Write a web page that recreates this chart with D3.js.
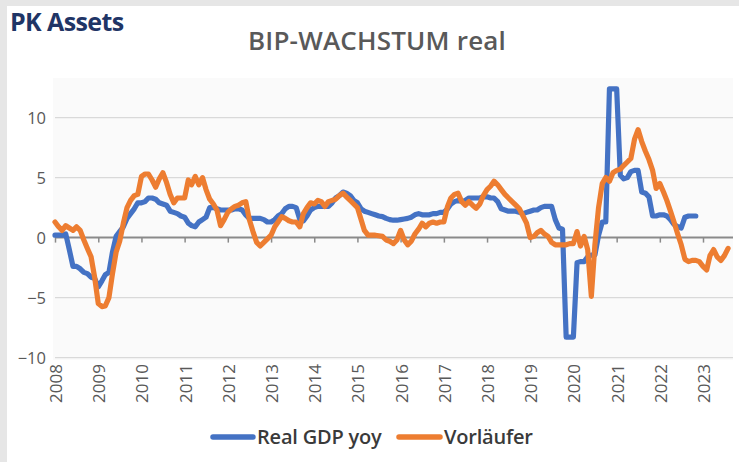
<!DOCTYPE html>
<html>
<head>
<meta charset="utf-8">
<script src="https://cdn.jsdelivr.net/npm/d3@7"></script>
<style>
  html, body { margin: 0; padding: 0; background: #e9e9e9; }
  svg { display: block; }
  text { font-family: "Open Sans", "Noto Sans", sans-serif; }
</style>
</head>
<body>
<svg id="chart" width="739" height="462"></svg>
<script>
// ---- data (monthly, starting Jan 2008) ----
const startMonth = "2008-01";
const years = ["2008","2009","2010","2011","2012","2013","2014","2015","2016","2017","2018","2019","2020","2021","2022","2023"];
const yTicks = [-10, -5, 0, 5, 10];
const seriesNames = ["Real GDP yoy", "Vorläufer"];

const realGdpYoy = [
  0.2, 0.2, 0.2, 0.3, -1.0, -2.4, -2.4, -2.6, -2.9, -3.0, -3.3, -3.4,
  -4.1, -3.6, -3.1, -2.9, -1.2, 0.1, 0.5, 0.9, 1.6, 2.0, 2.4, 2.9,
  2.9, 3.0, 3.3, 3.3, 3.2, 2.9, 2.8, 2.7, 2.2, 2.1, 2.0, 1.8,
  1.7, 1.2, 1.0, 0.9, 1.3, 1.5, 1.7, 2.5, 2.5, 2.4, 2.3, 2.3,
  2.3, 2.3, 2.4, 2.4, 2.3, 1.9, 1.6, 1.6, 1.6, 1.6, 1.5, 1.3,
  1.3, 1.5, 1.8, 2.0, 2.4, 2.6, 2.6, 2.5, 1.5, 1.4, 1.8, 2.3,
  2.5, 2.6, 2.6, 2.6, 2.6, 2.9, 3.3, 3.5, 3.8, 3.7, 3.5, 3.1,
  2.9, 2.4, 2.2, 2.1, 2.0, 1.9, 1.8, 1.75, 1.6, 1.5, 1.45, 1.45,
  1.5, 1.55, 1.6, 1.7, 1.9, 2.0, 1.9, 1.9, 1.9, 2.0, 2.0, 2.1,
  2.1, 2.4, 2.8, 3.0, 3.1, 3.0, 3.1, 3.3, 3.3, 3.3, 3.3, 3.4,
  3.4, 3.3, 3.3, 3.0, 2.4, 2.3, 2.2, 2.2, 2.2, 2.1, 2.0, 2.1,
  2.2, 2.3, 2.3, 2.5, 2.6, 2.6, 2.6, 1.5, 0.8, 0.7, -8.3, -8.3,
  -8.3, -2.1, -2.0, -2.0, -1.6, -1.45, -1.45, 0.2, 1.3, 1.3, 12.4, 12.4,
  12.4, 5.2, 4.9, 5.0, 5.5, 5.6, 5.6, 3.8, 3.7, 3.4, 1.8, 1.8,
  1.9, 1.9, 1.8, 1.5, 1.1, 0.9, 0.8, 1.7, 1.8, 1.8, 1.8
];

const vorlaeufer = [
  1.3, 0.9, 0.6, 1.0, 0.8, 0.6, 0.9, 0.6, -0.2, -0.9, -1.6, -3.3,
  -5.5, -5.75, -5.7, -5.0, -3.0, -1.2, -0.3, 1.2, 2.5, 3.1, 3.5, 3.6,
  5.1, 5.3, 5.3, 4.8, 4.2, 4.9, 5.4, 4.6, 3.6, 2.9, 3.3, 3.3,
  3.3, 4.8, 4.4, 5.1, 4.4, 5.0, 4.0, 3.2, 2.8, 2.3, 1.0, 1.5,
  2.1, 2.4, 2.6, 2.7, 2.9, 3.0, 1.5, 0.5, -0.4, -0.7, -0.4, -0.1,
  0.2, 0.9, 1.3, 1.75, 1.6, 1.4, 1.3, 1.3, 0.9, 2.0, 2.5, 2.9,
  2.8, 3.1, 3.0, 2.6, 3.0, 3.1, 3.2, 3.5, 3.7, 3.4, 3.1, 2.8,
  2.5, 1.5, 0.6, 0.2, 0.2, 0.2, 0.15, 0.1, -0.2, -0.3, -0.5, -0.2,
  0.6, -0.2, -0.6, -0.3, 0.3, 0.7, 1.2, 0.9, 1.2, 1.3, 1.2, 1.3,
  1.3, 2.6, 3.3, 3.6, 3.7, 3.0, 2.7, 3.0, 2.7, 2.45, 2.8, 3.5,
  4.0, 4.3, 4.7, 4.4, 4.0, 3.6, 3.3, 3.0, 2.7, 2.4, 1.8, 1.2,
  0.0, 0.1, 0.4, 0.6, 0.3, 0.1, -0.4, -0.6, -0.6, -0.6, -0.6, -0.5,
  -0.5, 0.5, -0.7, 0.1, -1.0, -4.9, -0.6, 2.5, 4.5, 5.0, 4.7, 5.4,
  5.6, 5.7, 6.0, 6.3, 6.6, 8.2, 9.0, 8.0, 7.2, 6.5, 5.6, 4.1,
  4.5, 3.8, 3.1, 2.2, 1.3, 0.3, -0.6, -1.8, -2.0, -1.9, -1.9, -2.0,
  -2.4, -2.7, -1.5, -1.0, -1.6, -1.9, -1.5, -0.9
];

const colors = ["#4472C4", "#ED7D31"];

// ---- layout ----
const W = 739, H = 462;
const plot = { left: 55, right: 733, top: 78, bottom: 358 };
const svg = d3.select("#chart");

const parseMonth = d3.timeParse("%Y-%m");
const start = parseMonth(startMonth);
const dateAt = i => d3.timeMonth.offset(start, i);

const x = d3.scaleTime()
  .domain([parseMonth(years[0] + "-01"), parseMonth(years[years.length - 1] + "-01")])
  .range([55, 703]);
const y = d3.scaleLinear().domain([-10, 10]).range([357.6, 117.6]);

// backgrounds
svg.append("rect").attr("x", 0).attr("y", 0).attr("width", W).attr("height", H).attr("fill", "#e6e6e6");
svg.append("rect").attr("x", 7).attr("y", 6).attr("width", W - 7).attr("height", H - 6).attr("fill", "#ffffff");
svg.append("rect").attr("x", plot.left - 2).attr("y", plot.top).attr("width", plot.right - plot.left + 2)
  .attr("height", plot.bottom - plot.top + 2).attr("fill", "#fafafa");

// header texts
svg.append("text").attr("x", 10).attr("y", 31)
  .attr("font-size", 25).attr("font-weight", 700).attr("letter-spacing", -0.6)
  .attr("fill", "#1F3566").text("PK Assets");
svg.append("text").attr("x", 377).attr("y", 50).attr("text-anchor", "middle")
  .attr("font-size", 26).attr("font-weight", 600).attr("letter-spacing", 0.2)
  .attr("fill", "#595959").text("BIP-WACHSTUM real");

// gridlines (non-zero)
const grid = svg.append("g");
grid.selectAll("line").data(yTicks.filter(d => d !== 0)).join("line")
  .attr("x1", plot.left).attr("x2", plot.right)
  .attr("y1", d => y(d)).attr("y2", d => y(d))
  .attr("stroke", "#d9d9d9").attr("stroke-width", 1.3);

// y axis labels
const yAxis = d3.axisLeft(y).tickValues(yTicks).tickSize(0).tickPadding(0).tickFormat(d3.format("d"));
const yg = svg.append("g").attr("transform", `translate(46,0)`).call(yAxis);
yg.select(".domain").remove();
yg.selectAll("text").attr("font-size", 16.5).attr("fill", "#595959")
  .attr("font-family", '"Open Sans", sans-serif').attr("dy", "0.35em");

// zero line with ticks (x axis)
const xAxis = d3.axisBottom(x)
  .tickValues(years.map(yr => parseMonth(yr + "-01")))
  .tickSize(5).tickSizeOuter(0)
  .tickFormat(d3.timeFormat("%Y"));
const xg = svg.append("g").attr("transform", `translate(0,${y(0)})`).call(xAxis);
xg.select(".domain").attr("d", `M${plot.left},0H${plot.right}`).attr("stroke", "#8a8a8a").attr("stroke-width", 2);
xg.selectAll(".tick line").attr("stroke", "#8a8a8a").attr("stroke-width", 1.5);
xg.selectAll(".tick text").remove();

// rotated year labels at bottom
const xl = svg.append("g");
xl.selectAll("text").data(years).join("text")
  .attr("transform", d => `translate(${x(parseMonth(d + "-01")) + 7},364) rotate(-90)`)
  .attr("text-anchor", "end")
  .attr("font-size", 17).attr("fill", "#595959")
  .text(d => d);

// lines
const line = d3.line()
  .x((d, i) => x(dateAt(i)))
  .y(d => y(d))
  .curve(d3.curveLinear);

[realGdpYoy, vorlaeufer].forEach((s, k) => {
  svg.append("path").datum(s)
    .attr("d", line)
    .attr("fill", "none")
    .attr("stroke", colors[k])
    .attr("stroke-width", 5.2)
    .attr("stroke-linejoin", "round")
    .attr("stroke-linecap", "round");
});

// legend
const legendItems = [
  { name: seriesNames[0], color: colors[0], x1: 213, x2: 253, tx: 257 },
  { name: seriesNames[1], color: colors[1], x1: 399, x2: 440, tx: 444 }
];
const lg = svg.append("g");
legendItems.forEach(it => {
  lg.append("line").attr("x1", it.x1).attr("x2", it.x2).attr("y1", 437).attr("y2", 437)
    .attr("stroke", it.color).attr("stroke-width", 5.5).attr("stroke-linecap", "round");
  lg.append("text").attr("x", it.tx).attr("y", 444)
    .attr("font-size", 20).attr("font-weight", 600).attr("letter-spacing", -0.2)
    .attr("fill", "#3a3a3a").text(it.name);
});
</script>
</body>
</html>
